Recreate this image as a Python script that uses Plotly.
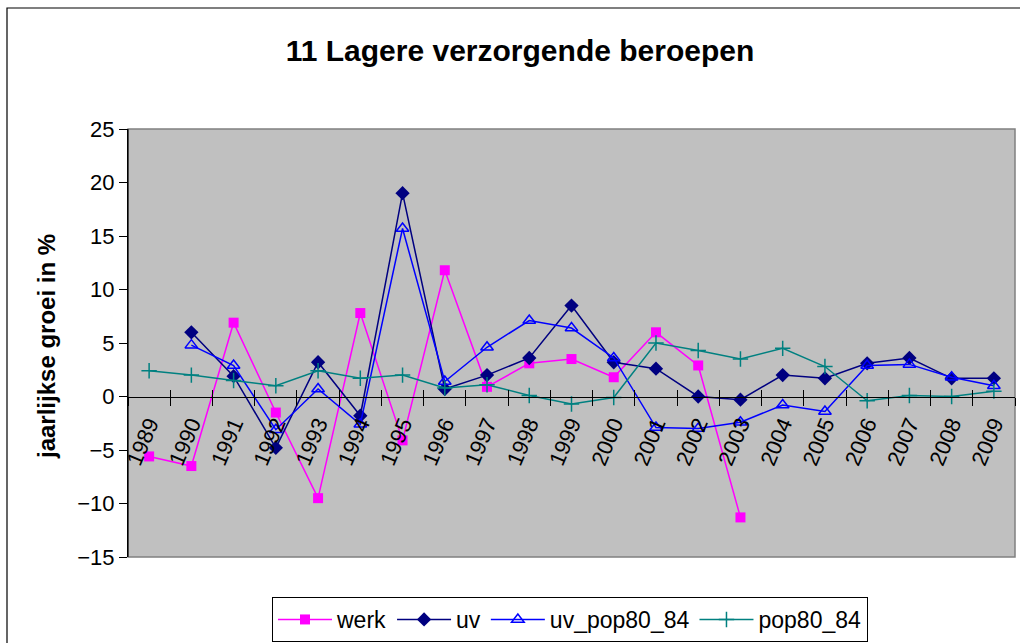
import plotly.graph_objects as go

years = [str(y) for y in range(1989, 2010)]
werk = [-5.6, -6.5, 6.9, -1.5, -9.5, 7.8, -4.1, 11.8, 0.9, 3.1, 3.5, 1.8, 6.0, 2.9, -11.3,
        None, None, None, None, None, None]
uv = [None, 6.0, 1.9, -4.8, 3.2, -1.8, 19.0, 0.7, 2.0, 3.6, 8.5, 3.2, 2.6, 0.0, -0.3,
      2.0, 1.7, 3.1, 3.6, 1.7, 1.7]
uv_pop80_84 = [None, 4.8, 2.9, -3.1, 0.7, -2.6, 15.7, 1.4, 4.6, 7.1, 6.4, 3.6, -2.9, -3.0, -2.4,
               -0.8, -1.4, 2.9, 3.0, 1.8, 1.0]
pop80_84 = [2.4, 2.0, 1.5, 1.0, 2.4, 1.7, 2.0, 0.8, 1.1, 0.1, -0.7, -0.1, 5.0, 4.3, 3.5,
            4.5, 2.8, -0.4, 0.1, 0.0, 0.5]

FONT = "Liberation Sans, Arial, sans-serif"

fig = go.Figure()
fig.add_trace(go.Scatter(x=years, y=werk, name="werk", mode="lines+markers",
                         line=dict(color="#FF00FF", width=1.5),
                         marker=dict(symbol="square", size=10, color="#FF00FF")))
fig.add_trace(go.Scatter(x=years, y=uv, name="uv", mode="lines+markers",
                         line=dict(color="#000080", width=1.5),
                         marker=dict(symbol="diamond", size=11, color="#000080")))
fig.add_trace(go.Scatter(x=years, y=uv_pop80_84, name="uv_pop80_84", mode="lines+markers",
                         line=dict(color="#0000FF", width=1.5),
                         marker=dict(symbol="triangle-up-open", size=11, color="#0000FF",
                                     line=dict(color="#0000FF", width=1.5))))
fig.add_trace(go.Scatter(x=years, y=pop80_84, name="pop80_84", mode="lines+markers",
                         line=dict(color="#008080", width=1.5),
                         marker=dict(symbol="cross-thin", size=11, color="#008080",
                                     line=dict(color="#008080", width=1.5))))

L, R, T, B = 128, 5, 129, 86
W, H = 1020, 643
pw, ph = W - L - R, H - T - B

def px(xp):
    return (xp - L) / pw

def py(yp):
    return (H - B - yp) / ph

fig.update_layout(
    width=W, height=H,
    margin=dict(l=L, r=R, t=T, b=B, autoexpand=False),
    paper_bgcolor="white",
    plot_bgcolor="#C0C0C0",
    font=dict(family=FONT, size=22, color="black"),
    title=dict(text="<b>11 Lagere verzorgende beroepen</b>", x=px(520), xanchor="center",
               xref="paper", y=1 - 50 / H, yanchor="middle", font=dict(size=30)),
    showlegend=True,
    legend=dict(orientation="h", x=px(570), xanchor="center", y=py(597), yanchor="top",
                bordercolor="black", borderwidth=1, bgcolor="white",
                font=dict(size=23), itemwidth=54, tracegroupgap=0),
    xaxis=dict(type="category", categoryarray=years, range=[-0.5, 20.5],
               anchor="free", position=15 / 40, showline=True, linecolor="black",
               linewidth=1, ticks="outside", ticklen=8, tickcolor="black",
               tickson="boundaries", tickangle=-67, showgrid=False, zeroline=False,
               ticklabelstandoff=5, tickfont=dict(size=22)),
    yaxis=dict(range=[-15, 25], tickvals=list(range(-15, 30, 5)), showgrid=False,
               zeroline=False, showline=True, linecolor="black", linewidth=1,
               ticks="outside", ticklen=8, tickcolor="black", tickfont=dict(size=22)),
    xaxis2=dict(overlaying="x", range=[-0.5, 20.5], anchor="free", position=15 / 40,
                tickvals=[i - 0.5 for i in range(22)], ticks="inside", ticklen=7,
                tickcolor="black", showticklabels=False, showgrid=False, zeroline=False,
                showline=False),
    shapes=[
        dict(type="rect", xref="paper", yref="paper", x0=0, x1=1, y0=0, y1=1,
             line=dict(color="#808080", width=1.5), layer="below"),
        dict(type="line", xref="paper", yref="paper", x0=0, x1=0, y0=0, y1=1,
             line=dict(color="black", width=1)),
        dict(type="rect", xref="paper", yref="paper", x0=px(7), x1=px(1030),
             y0=py(660), y1=py(8), line=dict(color="black", width=1.2)),
    ],
    annotations=[
        dict(text="<b>jaarlijkse groei in %</b>", xref="paper", yref="paper",
             x=px(46), y=py(347), textangle=-90, showarrow=False,
             xanchor="center", yanchor="middle", font=dict(size=24)),
    ],
)
fig.add_trace(go.Scatter(x=[None], y=[None], xaxis="x2", showlegend=False, hoverinfo="skip"))

fig.write_html("out.html", config={"displayModeBar": False},
               post_script="document.body.style.margin='0';document.body.style.overflow='hidden';")
